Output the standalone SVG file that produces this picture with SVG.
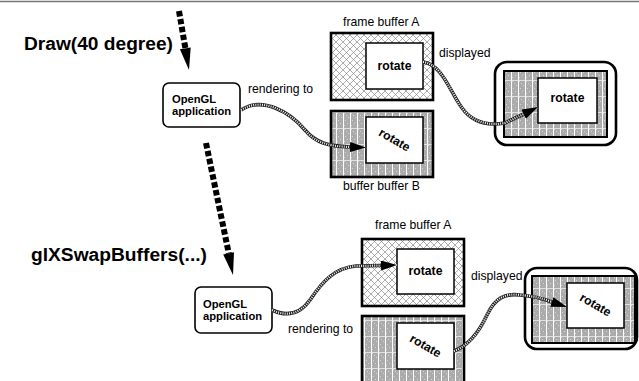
<svg xmlns="http://www.w3.org/2000/svg" width="639" height="381" viewBox="0 0 639 381">
<style>
text{font-family:"Liberation Sans",Arial,Helvetica,sans-serif;fill:#000}
.big{font-size:17.5px;font-weight:bold}
.lbl{font-size:12.2px}
.app{font-size:11.2px;font-weight:bold}
.rot{font-size:12.2px;font-weight:bold}
.appbox{fill:#fff;stroke:#000;stroke-width:1.6}
.frA{fill:url(#cross);stroke:#000;stroke-width:2.6}
.frB{fill:url(#grid);stroke:#000;stroke-width:2.6}
.inner{fill:#fff;stroke:#000;stroke-width:1.5}
.disp{fill:#fff;stroke:#000;stroke-width:2.6}
.rope{fill:none;stroke:#222;stroke-width:3.6}
.ropeW{fill:none;stroke:#fff;stroke-width:2.2;stroke-dasharray:0.9 1.3}
.call{fill:none;stroke:#000;stroke-width:6;stroke-dasharray:5.5 2.5}
</style>
<defs>
<pattern id="cross" width="7" height="7" patternUnits="userSpaceOnUse">
<rect width="7" height="7" fill="#fff"/>
<path d="M0,0 L7,7 M7,0 L0,7" stroke="#8a8a8a" stroke-width="0.7"/>
</pattern>
<pattern id="grid" width="7" height="16" patternUnits="userSpaceOnUse">
<rect width="7" height="16" fill="#ababab"/>
<rect x="1" y="1" width="1" height="1" fill="#d4d4d4"/>
<rect x="3" y="3" width="1" height="1" fill="#d4d4d4"/>
<rect x="5" y="5" width="1" height="1" fill="#d4d4d4"/>
<rect x="2" y="8" width="1" height="1" fill="#d4d4d4"/>
<rect x="4" y="11" width="1" height="1" fill="#d4d4d4"/>
<rect x="1" y="13" width="1" height="1" fill="#d4d4d4"/>
<rect x="0" y="0" width="1" height="16" fill="#fff"/>
<rect x="0" y="0" width="7" height="0.8" fill="#eee"/>
</pattern>
<marker id="ah" markerUnits="userSpaceOnUse" markerWidth="18" markerHeight="12" refX="16" refY="5" orient="auto">
<path d="M0,0 L16,5 L0,10 Z" fill="#000"/>
</marker>
</defs>

<line x1="0" y1="1.5" x2="639" y2="1.5" stroke="#777" stroke-width="1.5"/>

<!-- labels -->
<text class="big" x="24" y="50" textLength="149" lengthAdjust="spacingAndGlyphs">Draw(40 degree)</text>
<text class="big" x="31" y="260.5" textLength="176" lengthAdjust="spacingAndGlyphs">glXSwapBuffers(...)</text>

<!-- top scene -->
<g id="app1">
<rect class="appbox" x="163" y="83" width="77" height="44" rx="6"/>
<text class="app" x="172" y="102.5">OpenGL</text>
<text class="app" x="172" y="115">application</text>
</g>
<text class="lbl" x="248" y="93">rendering to</text>

<g id="fbA1">
<text class="lbl" x="343" y="26">frame buffer A</text>
<rect class="frA" x="331" y="33" width="102" height="67"/>
<rect class="inner" x="366" y="43" width="57" height="46"/>
<text class="rot" x="394.5" y="70" text-anchor="middle">rotate</text>
</g>

<g id="fbB1">
<rect class="frB" x="331" y="111" width="102" height="66"/>
<rect class="inner" x="366" y="117" width="57" height="46"/>
<text class="rot" x="394.5" y="140" text-anchor="middle" transform="rotate(30 394.5 140)" dy="4">rotate</text>
<text class="lbl" x="343" y="190">buffer buffer B</text>
</g>

<g id="disp1">
<text class="lbl" x="439" y="57">displayed</text>
<rect class="disp" x="495" y="62" width="121" height="83" rx="12"/>
<rect class="frB" x="504" y="71" width="103" height="66" style="stroke-width:2"/>
<rect class="inner" x="538" y="78" width="59" height="45"/>
<text class="rot" x="567.5" y="102" text-anchor="middle">rotate</text>
</g>

<!-- bottom scene -->
<g id="app2">
<rect class="appbox" x="195" y="287" width="77" height="46" rx="6"/>
<text class="app" x="203" y="307.5">OpenGL</text>
<text class="app" x="203" y="320">application</text>
</g>
<text class="lbl" x="288" y="333">rendering to</text>

<g id="fbA2">
<text class="lbl" x="375" y="229">frame buffer A</text>
<rect class="frA" x="362" y="239" width="102" height="67"/>
<rect class="inner" x="397" y="249" width="57" height="45"/>
<text class="rot" x="425.5" y="275" text-anchor="middle">rotate</text>
</g>

<g id="fbB2">
<rect class="frB" x="362" y="316" width="102" height="80"/>
<rect class="inner" x="397" y="323" width="57" height="46"/>
<text class="rot" x="425.5" y="346" text-anchor="middle" transform="rotate(30 425.5 346)" dy="4">rotate</text>
</g>

<g id="disp2">
<text class="lbl" x="471" y="280">displayed</text>
<rect class="disp" x="525" y="268" width="112" height="81" rx="12"/>
<rect class="frB" x="532" y="276" width="103" height="67" style="stroke-width:2"/>
<rect class="inner" x="567" y="283" width="57" height="45"/>
<text class="rot" x="595.5" y="305" text-anchor="middle" transform="rotate(30 595.5 305)" dy="4">rotate</text>
</g>

<g id="connectors">
<path class="call" d="M179,11 L185.5,49"/>
<polygon points="189,70 190.7,47.4 179.9,49.2" fill="#000"/>
<path class="call" d="M206,143 L228.8,253.5"/>
<polygon points="233,275 234,252.3 223.2,254.5" fill="#000"/>

<path class="rope" d="M241,110 C262,96 290,112 305,130 C316,143 328,146 350,147"/>
<path class="ropeW" d="M241,110 C262,96 290,112 305,130 C316,143 328,146 350,147 L366,147.5" marker-end="url(#ah)"/>

<path class="rope" d="M423,62 C442,64 450,92 462,108 C472,122 488,126 505,123 L524,114"/>
<path class="ropeW" d="M423,62 C442,64 450,92 462,108 C472,122 488,126 505,123 L524,114 L538,107" marker-end="url(#ah)"/>

<path class="rope" d="M272,310 C287,317 300,314 310,300 C324,279 336,268 356,266 L382,265.5"/>
<path class="ropeW" d="M272,310 C287,317 300,314 310,300 C324,279 336,268 356,266 L382,265.5 L397,265" marker-end="url(#ah)"/>

<path class="rope" d="M454,351 C470,345 480,330 487,315 C495,298 505,293 520,295 C533,296 541,298 552,302"/>
<path class="ropeW" d="M454,351 C470,345 480,330 487,315 C495,298 505,293 520,295 C533,296 541,298 552,302 L567,307" marker-end="url(#ah)"/>
</g>
</svg>
